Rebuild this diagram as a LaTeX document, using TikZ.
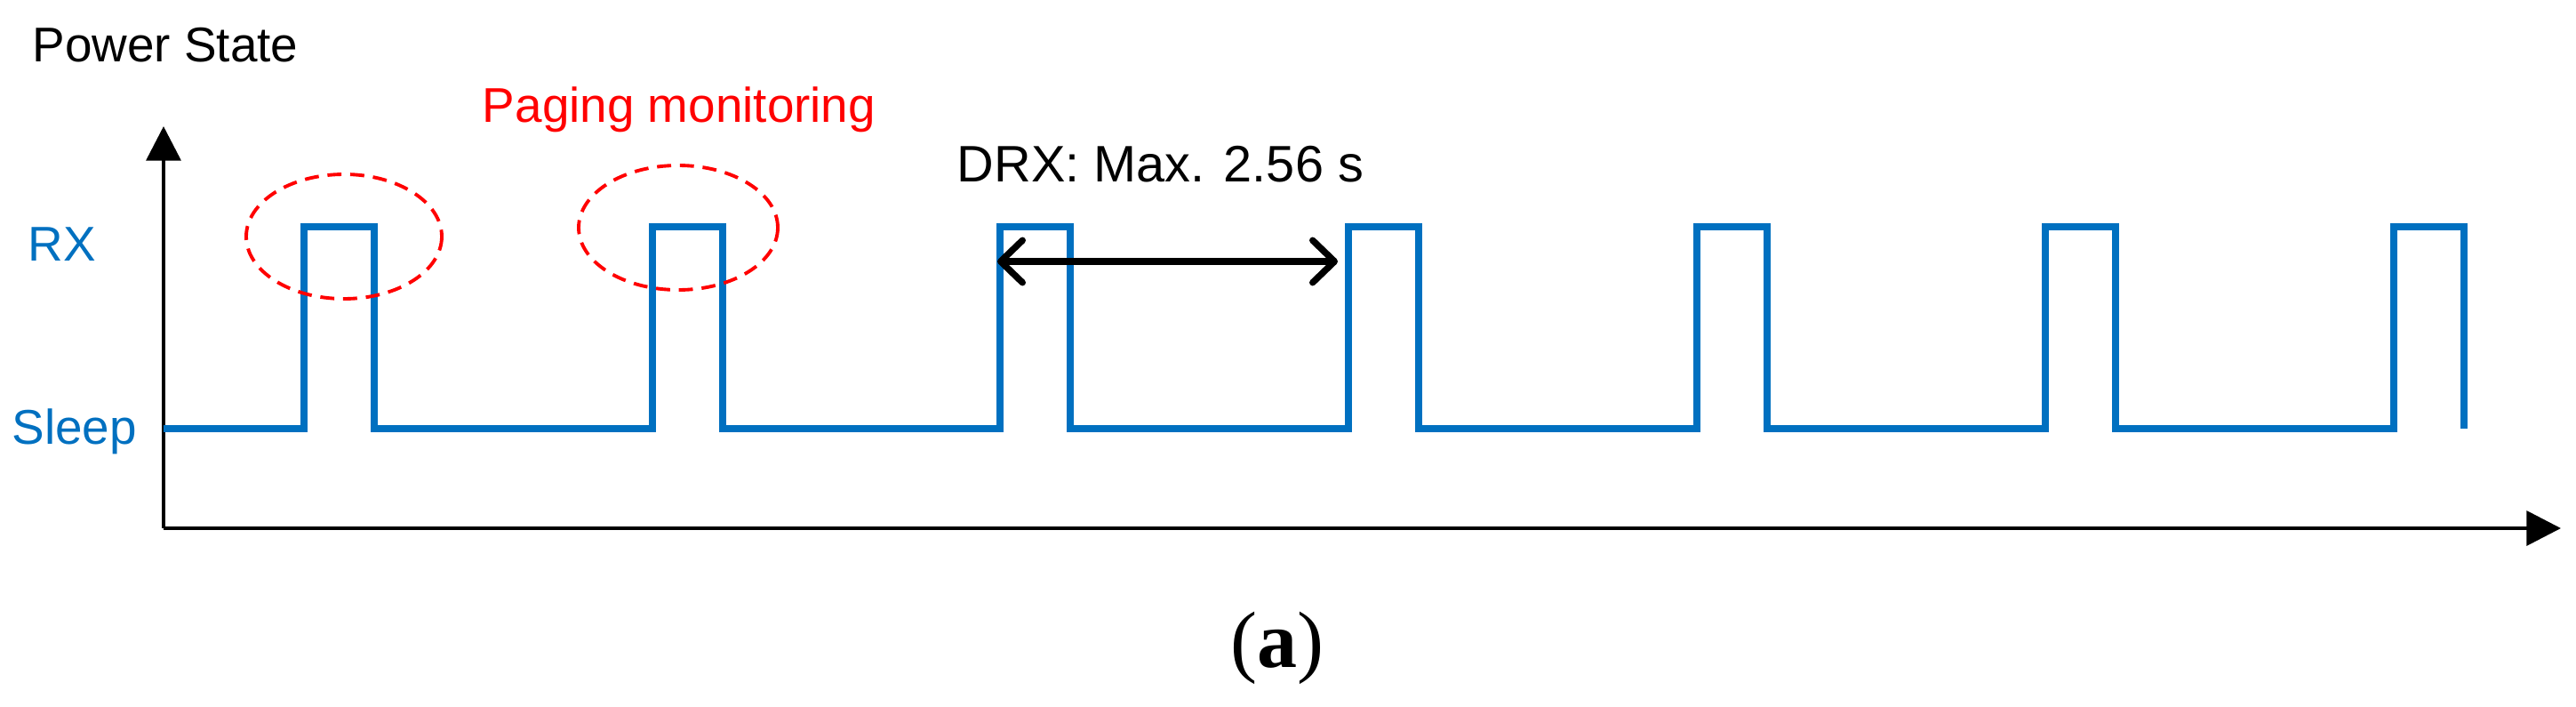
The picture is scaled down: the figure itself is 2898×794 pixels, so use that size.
\documentclass[tikz,border=0pt]{standalone}
\usepackage{fontspec}
\setmainfont{Liberation Sans}
\newfontfamily\capfont{Liberation Serif}
\usetikzlibrary{arrows.meta}
\definecolor{sigblue}{HTML}{0070C0}
\definecolor{pagred}{HTML}{FF0000}
\tikzset{
  axisline/.style={line width=1.3pt, -{Triangle[length=11pt,width=11pt]}},
  signal/.style={line width=2.2pt, draw=sigblue, line join=miter},
  pageell/.style={draw=pagred, line width=1.1pt, dash pattern=on 4.5pt off 2.8pt},
  drxarrow/.style={line width=2.1pt, line cap=round, {Straight Barb[length=7pt,width=13.5pt,round]}-{Straight Barb[length=7pt,width=13.5pt,round]}},
  lbl/.style={inner sep=0pt, font=\fontsize{15.6pt}{18pt}\selectfont},
}
\begin{document}
\begin{tikzpicture}[x=0.01cm, y=-0.01cm]
\useasboundingbox (0,0) rectangle (2898,794);
% axes
\coordinate (O) at (184,594);
\coordinate (ytop) at (184,142);
\coordinate (xend) at (2881,594);
\draw[axisline] (O) -- (ytop);
\draw[axisline] (O) -- (xend);
% signal
\draw[signal] (184,482)
  -- (342,482) -- (342,255) -- (421,255) -- (421,482)
  -- (734,482) -- (734,255) -- (813,255) -- (813,482)
  -- (1125,482) -- (1125,255) -- (1204,255) -- (1204,482)
  -- (1517,482) -- (1517,255) -- (1596,255) -- (1596,482)
  -- (1909,482) -- (1909,255) -- (1988,255) -- (1988,482)
  -- (2301,482) -- (2301,255) -- (2380,255) -- (2380,482)
  -- (2693,482) -- (2693,255) -- (2772,255) -- (2772,482);
% paging ellipses
\draw[pageell] (387,266) ellipse [x radius=110, y radius=70];
\draw[pageell] (763,256) ellipse [x radius=112, y radius=70];
% DRX arrow
\coordinate (dl) at (1122,294);
\coordinate (dr) at (1505,294);
\draw[drxarrow] (dl) -- (dr);
% labels
\node[lbl, anchor=base west] (ps) at (36,70) {Power State};
\node[lbl, anchor=base west, text=sigblue] (rx) at (31,293) {RX};
\node[lbl, anchor=base west, text=sigblue] (sl) at (13,499) {Sleep};
\node[lbl, anchor=base, text=pagred] (pm) at (764,137) {Paging monitoring};
\node[inner sep=0pt, anchor=base west, font=\fontsize{16.4pt}{20pt}\selectfont] (drx) at (1076,205) {DRX: Max. 2.56 s};
\node[inner sep=0pt, anchor=base, font=\capfont\fontsize{25.6pt}{30pt}\selectfont] (cap) at (1437,750) {(\textbf{a})};
\end{tikzpicture}
\end{document}
